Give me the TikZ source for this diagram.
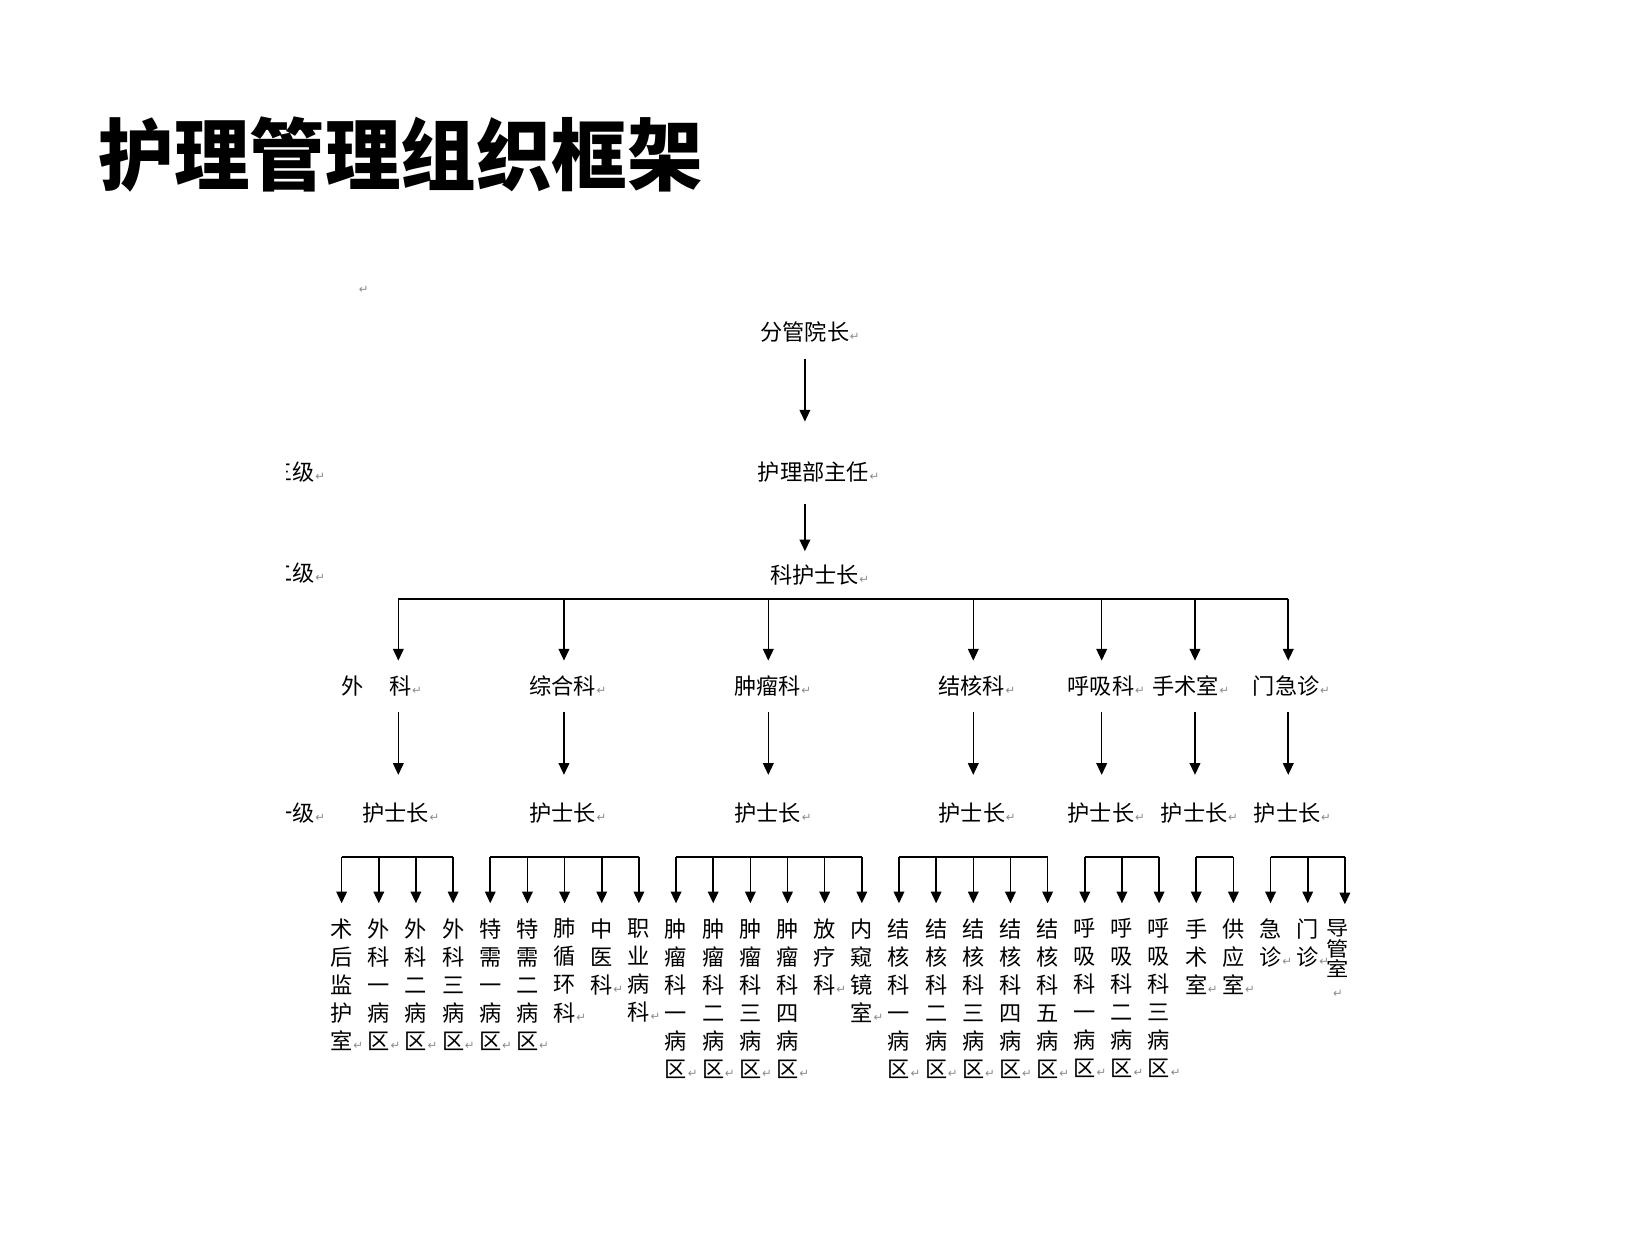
\documentclass[tikz,border=0pt]{standalone}
\usepackage{fontspec}
\newfontfamily\cjk{Noto Sans CJK SC}
\newfontfamily\titlefont{Noto Sans CJK SC Black}
\newfontfamily\dv{DejaVu Sans}
\usetikzlibrary{arrows.meta}
\definecolor{retgray}{gray}{0.55}
\newcommand\retmark{{\color{retgray}\dv\fontsize{5.5}{6}\selectfont ↵}}
\newcommand\ret{\rlap{\kern0.3pt\retmark}}
\newcommand\sq[1]{\scalebox{1}[0.9]{#1}}
\tikzset{
  lbl/.style={inner sep=0pt, font=\cjk\fontsize{10.5}{13.25}\selectfont, text height=8.7pt, text depth=0.8pt},
  col/.style={inner sep=0pt, anchor=north, align=center, font=\cjk\fontsize{10.5}{13.25}\selectfont},
  arr/.style={-{Triangle[width=5pt,length=5.5pt]}, line width=0.75pt},
  ln/.style={line width=0.75pt},
}
\begin{document}
\begin{tikzpicture}[x=0.5pt,y=-0.5pt]
\useasboundingbox[fill=white] (0,0) rectangle (1560,1170.5);
% title
\node[anchor=west, inner sep=0pt, font=\titlefont\fontsize{37}{40}\selectfont] (title) at (93,146) {\scalebox{0.965}[1]{护理管理组织框架}};
% stray mark
\node[inner sep=0pt] (stray) at (344,274) {\retmark};
% top chain
\node[lbl] (fg) at (761,313.6) {分管院长\ret};
\node[lbl] (hb) at (769,446) {护理部主任\ret};
\node[lbl] (kh) at (770,543.6) {科护士长\ret};
% left level labels (clipped)
\begin{scope}
\clip (271,400) rectangle (420,820);
\node[lbl, anchor=east] (l3) at (298,446) {三级\ret};
\node[lbl, anchor=east] (l2) at (298,542) {二级\ret};
\node[lbl, anchor=east] (l1) at (298,769) {一级\ret};
\end{scope}
\draw[arr, shorten <=7.95pt, shorten >=18.75pt] (fg.south) -- (fg.south |- hb.north);
\draw[arr, shorten <=10.25pt, shorten >=6.25pt] (fg.south |- hb.south) -- (fg.south |- kh.north);
% departments
\node[lbl] (d1) at (356,649) {外\hspace{12pt}科\ret};
\node[lbl] (d2) at (532,649) {综合科\ret};
\node[lbl] (d3) at (725.6,649) {肿瘤科\ret};
\node[lbl] (d4) at (918.6,649) {结核科\ret};
\node[lbl] (d5) at (1041,649) {呼吸科\ret};
\node[lbl] (d6) at (1121,649) {手术室\ret};
\node[lbl] (d7) at (1216,649) {门急诊\ret};
% head nurses
\node[lbl] (n1) at (374,769) {护士长\ret};
\node[lbl] (n2) at (532,769) {护士长\ret};
\node[lbl] (n3) at (726,769) {护士长\ret};
\node[lbl] (n4) at (919,769) {护士长\ret};
\node[lbl] (n5) at (1041,769) {护士长\ret};
\node[lbl] (n6) at (1129,769) {护士长\ret};
\node[lbl] (n7) at (1217,769) {护士长\ret};
% bar and drops
\coordinate (t1) at (376.6,566.5);
\coordinate (t2) at (533.2,566.5);
\coordinate (t3) at (726.4,566.5);
\coordinate (t4) at (920.2,566.5);
\coordinate (t5) at (1041.6,566.5);
\coordinate (t6) at (1129.8,566.5);
\coordinate (t7) at (1218,566.5);
\draw[ln] (t1) -- (t7);
\foreach \i in {1,...,7}{
  \draw[arr, shorten >=7.25pt] (t\i) -- (t\i |- d\i.north);
  \draw[arr, shorten <=7.25pt, shorten >=13.25pt] (t\i |- d\i.south) -- (t\i |- n\i.north);
}
% units
\node[col] (c1) at (323.00,868) {术\\后\\监\\护\\室\ret};
\node[col] (c2) at (358.13,868) {外\\科\\一\\病\\区\ret};
\node[col] (c3) at (393.26,868) {外\\科\\二\\病\\区\ret};
\node[col] (c4) at (428.39,868) {外\\科\\三\\病\\区\ret};
\node[col] (c5) at (463.52,868) {特\\需\\一\\病\\区\ret};
\node[col] (c6) at (498.65,868) {特\\需\\二\\病\\区\ret};
\node[col] (c7) at (533.78,868) {肺\\循\\环\\科\ret};
\node[col] (c8) at (568.91,868) {中\\医\\科\ret};
\node[col] (c9) at (604.04,868) {职\\业\\病\\科\ret};
\node[col] (c10) at (639.17,868) {肿\\瘤\\科\\一\\病\\区\ret};
\node[col] (c11) at (674.30,868) {肿\\瘤\\科\\二\\病\\区\ret};
\node[col] (c12) at (709.43,868) {肿\\瘤\\科\\三\\病\\区\ret};
\node[col] (c13) at (744.56,868) {肿\\瘤\\科\\四\\病\\区\ret};
\node[col] (c14) at (779.69,868) {放\\疗\\科\ret};
\node[col] (c15) at (814.82,868) {内\\窥\\镜\\室\ret};
\node[col] (c16) at (849.95,868) {结\\核\\科\\一\\病\\区\ret};
\node[col] (c17) at (885.08,868) {结\\核\\科\\二\\病\\区\ret};
\node[col] (c18) at (920.21,868) {结\\核\\科\\三\\病\\区\ret};
\node[col] (c19) at (955.34,868) {结\\核\\科\\四\\病\\区\ret};
\node[col] (c20) at (990.47,868) {结\\核\\科\\五\\病\\区\ret};
\node[col] (c21) at (1025.60,868) {呼\\吸\\科\\一\\病\\区\ret};
\node[col] (c22) at (1060.73,868) {呼\\吸\\科\\二\\病\\区\ret};
\node[col] (c23) at (1095.86,868) {呼\\吸\\科\\三\\病\\区\ret};
\node[col] (c24) at (1130.99,868) {手\\术\\室\ret};
\node[col] (c25) at (1166.12,868) {供\\应\\室\ret};
\node[col] (c26) at (1201.25,868) {急\\诊\ret};
\node[col] (c27) at (1236.38,868) {门\\诊\ret};
\node[col, font=\cjk\fontsize{10.5}{9.75}\selectfont] (c28) at (1265,869) {\sq{导}\\\sq{管}\\\sq{室}\\\makebox[0pt]{\retmark}};
\foreach \i in {1,...,28}{
  \coordinate (b\i) at ({323+35.13*(\i-1)},810);
  \draw[arr, shorten >=7pt] (b\i) -- (b\i |- c\i.north);
}
\draw[ln] (b1) -- (b4);
\draw[ln] (b5) -- (b9);
\draw[ln] (b10) -- (b15);
\draw[ln] (b16) -- (b20);
\draw[ln] (b21) -- (b23);
\draw[ln] (b24) -- (b25);
\draw[ln] (b26) -- (b28);
\end{tikzpicture}
\end{document}
